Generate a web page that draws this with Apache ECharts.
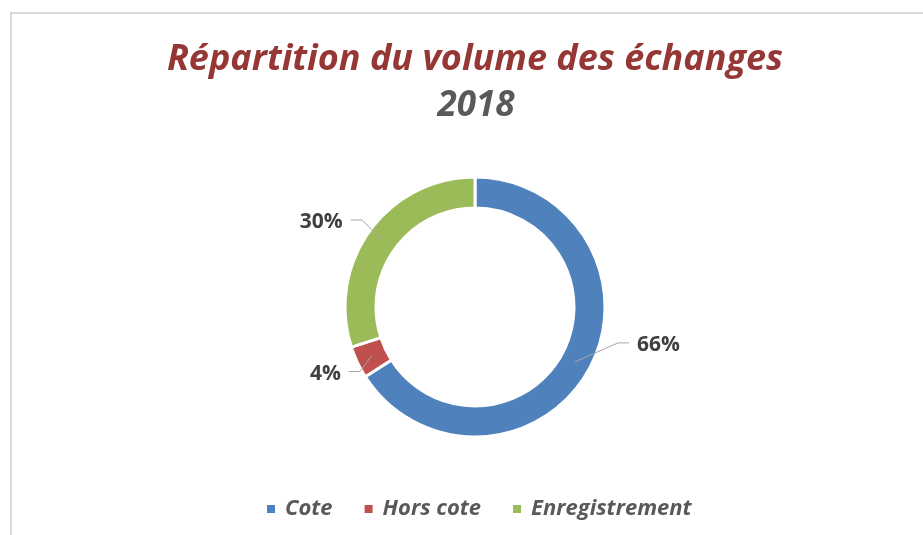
<!DOCTYPE html>
<html>
<head>
<meta charset="utf-8">
<title>Répartition du volume des échanges 2018</title>
<script src="https://cdn.jsdelivr.net/npm/echarts@6/dist/echarts.min.js"></script>
<style>
  html, body { margin: 0; padding: 0; background: #fff; overflow: hidden; }
  #frame {
    position: absolute; left: 10px; top: 12px; width: 960px; height: 580px;
    border-left: 2px solid #d9d9d9; border-top: 2px solid #d9d9d9;
  }
  #chart { position: absolute; left: 0; top: 0; width: 923px; height: 535px; }
</style>
</head>
<body>
<div id="frame"></div>
<div id="chart"></div>
<script>
  const categories = ["Cote", "Hors cote", "Enregistrement"];
  const shares = [66, 4, 30];
  const colors = ["#4f81bd", "#c0504d", "#9bbb59"];

  const FONT = "'Open Sans', 'DejaVu Sans', sans-serif";
  const CENTER = [475, 307];
  const RADIUS = [99, 130];
  const LINE_START_R = 114;
  // where each leader line bends, relative to its start in the ring
  const LINE_BEND = [[43, -19], [-12, 16], [-21, -20]];
  const LINE_TAIL = 11;
  const TEXT_GAP = 8;

  const total = shares.reduce((a, b) => a + b, 0);

  function midDir(i) {
    const before = shares.slice(0, i).reduce((a, b) => a + b, 0);
    const angle = ((before + shares[i] / 2) / total) * Math.PI * 2;
    return [Math.sin(angle), -Math.cos(angle)];
  }

  const pieData = categories.map((name, i) => ({ name, value: shares[i] }));

  const chart = echarts.init(document.getElementById("chart"), null, { renderer: "canvas" });

  chart.setOption({
    animation: false,
    color: colors,
    title: [
      {
        text: "Répartition du volume des échanges",
        left: 470,
        top: 37,
        textAlign: "center",
        textStyle: { fontFamily: FONT, fontSize: 36, fontWeight: "bold", fontStyle: "italic", color: "#953735" }
      },
      {
        text: "2018",
        left: 471,
        top: 84,
        textAlign: "center",
        textStyle: { fontFamily: FONT, fontSize: 35, fontWeight: "bold", fontStyle: "italic", color: "#595959" }
      }
    ],
    legend: {
      data: categories,
      left: 260,
      top: 493,
      icon: "rect",
      itemWidth: 10,
      itemHeight: 10,
      itemGap: 30,
      textStyle: { fontFamily: FONT, fontSize: 22, fontWeight: "bold", fontStyle: "italic", color: "#595959", padding: [0, 0, 0, 4] }
    },
    series: [
      {
        type: "pie",
        z: 2,
        center: CENTER,
        radius: RADIUS,
        startAngle: 90,
        clockwise: true,
        emphasis: { scale: false },
        itemStyle: { borderColor: "#fff", borderWidth: 3 },
        label: { show: false },
        labelLine: { show: false },
        data: pieData
      },
      {
        // same ring drawn see-through on top, so the leader lines cross the colour
        type: "pie",
        z: 5,
        center: CENTER,
        radius: RADIUS,
        startAngle: 90,
        clockwise: true,
        silent: true,
        avoidLabelOverlap: false,
        percentPrecision: 0,
        emphasis: { disabled: true },
        itemStyle: { color: "rgba(0,0,0,0)", borderWidth: 0 },
        label: {
          show: true,
          position: "outside",
          formatter: "{d}%",
          fontFamily: FONT,
          fontSize: 21,
          fontWeight: "bold",
          color: "#404040"
        },
        labelLine: { show: true, lineStyle: { color: "#a6a6a6", width: 1 } },
        labelLayout(params) {
          const i = params.dataIndex;
          const d = midDir(i);
          const start = [CENTER[0] + d[0] * LINE_START_R, CENTER[1] + d[1] * LINE_START_R];
          const bend = [start[0] + LINE_BEND[i][0], start[1] + LINE_BEND[i][1]];
          const side = d[0] >= 0 ? 1 : -1;
          const end = [bend[0] + side * LINE_TAIL, bend[1]];
          return {
            x: end[0] + side * TEXT_GAP,
            y: end[1] + 2,
            align: side > 0 ? "left" : "right",
            verticalAlign: "middle",
            labelLinePoints: [start, bend, end]
          };
        },
        data: pieData
      }
    ]
  });
</script>
</body>
</html>
